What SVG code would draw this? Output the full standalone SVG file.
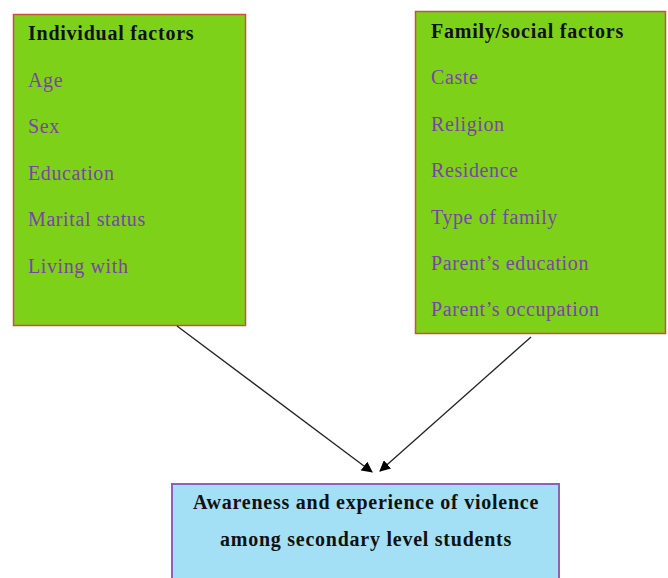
<svg xmlns="http://www.w3.org/2000/svg" width="668" height="578" viewBox="0 0 668 578">
  <style>
    .factor { fill: #7ed119; stroke: #c9503c; stroke-width: 1.5; }
    .outcome { fill: #a3e0f6; stroke: #8a63b8; stroke-width: 2; }
    .title { font-family: "Liberation Serif", "Times New Roman", serif; font-size: 20px; font-weight: bold; fill: #111; letter-spacing: 0.75px; }
    .item { font-family: "Liberation Serif", "Times New Roman", serif; font-size: 20px; fill: #7a44a6; letter-spacing: 0.6px; }
    .edge { stroke: #222; stroke-width: 1.3; fill: none; marker-end: url(#arrow); }
  </style>
  <defs>
    <marker id="arrow" markerWidth="11" markerHeight="11" refX="10" refY="5.5" orient="auto" markerUnits="userSpaceOnUse">
      <path d="M0,0 L11,5.5 L0,11 z" fill="#000"/>
    </marker>
  </defs>
  <rect width="668" height="578" fill="#fff"/>

  <g id="individual-factors">
    <rect class="factor" x="13.5" y="14.5" width="232" height="311"/>
    <text class="title" x="28" y="40">Individual factors</text>
    <text class="item" x="28" y="87">Age</text>
    <text class="item" x="28" y="133">Sex</text>
    <text class="item" x="28" y="180">Education</text>
    <text class="item" x="28" y="226">Marital status</text>
    <text class="item" x="28" y="273">Living with</text>
  </g>

  <g id="family-social-factors">
    <rect class="factor" x="415.5" y="11.5" width="250" height="322"/>
    <text class="title" x="431" y="38">Family/social  factors</text>
    <text class="item" x="431" y="84">Caste</text>
    <text class="item" x="431" y="131">Religion</text>
    <text class="item" x="431" y="177">Residence</text>
    <text class="item" x="431" y="224">Type of family</text>
    <text class="item" x="431" y="270">Parent’s education</text>
    <text class="item" x="431" y="316">Parent’s occupation</text>
  </g>

  <g id="outcome">
    <rect class="outcome" x="172" y="484" width="387" height="100"/>
    <text class="title" x="366" y="509" text-anchor="middle">Awareness and experience of violence</text>
    <text class="title" x="366" y="546" text-anchor="middle">among secondary level students</text>
  </g>

  <g id="connectors">
    <line class="edge" x1="177" y1="326" x2="372" y2="472"/>
    <line class="edge" x1="531" y1="337" x2="380" y2="471"/>
  </g>
</svg>
